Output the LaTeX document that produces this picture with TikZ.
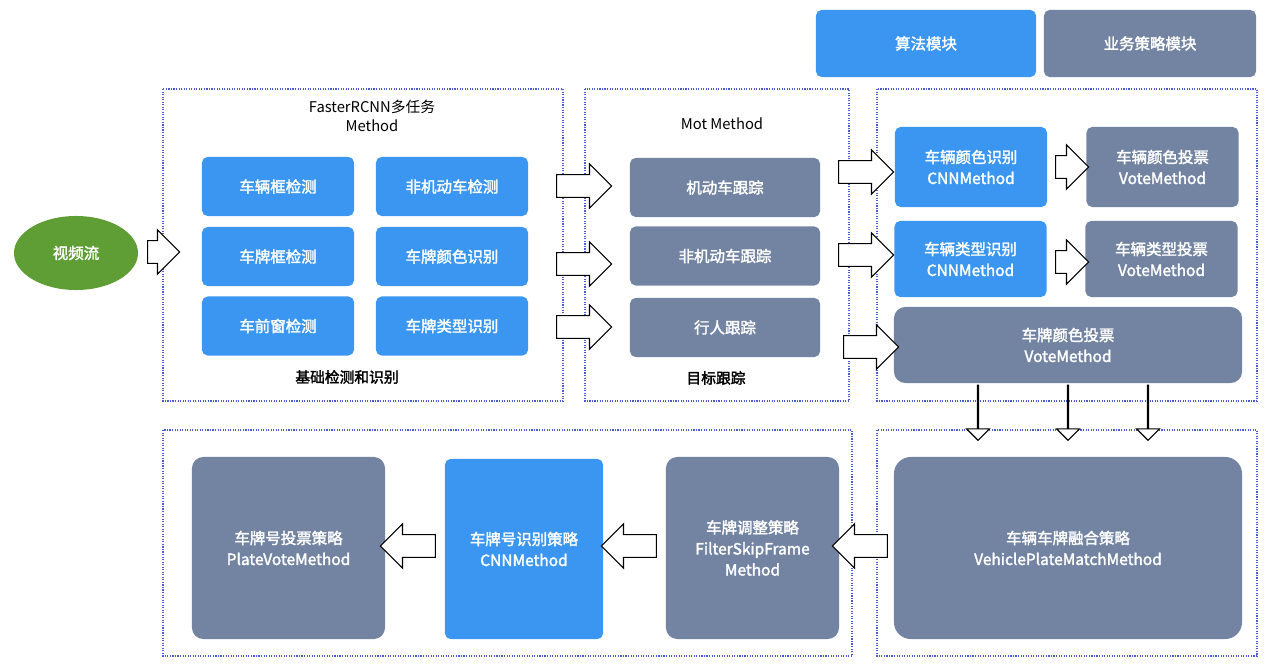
\documentclass[tikz,border=0pt]{standalone}
\usepackage{fontspec}
\setmainfont{Noto Sans CJK SC}[AutoFakeBold=2]
\usetikzlibrary{shapes.geometric,shapes.arrows}
\definecolor{algoblue}{HTML}{3A96F0}
\definecolor{rulegray}{HTML}{7384A3}
\definecolor{streamgreen}{HTML}{5E9E34}
\definecolor{framecol}{HTML}{4A5BD0}
\tikzset{
  algo/.style={fill=algoblue,rounded corners=4pt,text=white,align=center,font=\bfseries\fontsize{11}{15}\selectfont},
  rule/.style={fill=rulegray,rounded corners=4pt,text=white,align=center,font=\bfseries\fontsize{11}{15}\selectfont},
  frame/.style={draw=framecol,densely dotted,thick},
  hollow/.style={single arrow,draw=black,fill=white,thick,inner sep=0pt,inner ysep=0.27cm,
    single arrow head extend=0.27cm,single arrow head indent=0pt,minimum height=1.375cm},
  caption/.style={font=\fontsize{10.5}{14}\selectfont,align=center}
}
\begin{document}
\begin{tikzpicture}[x=0.025cm,y=-0.025cm]
\useasboundingbox (0,0) rectangle (1272,670);

% legend
\node[algo,minimum width=5.5cm,minimum height=1.675cm] (leg1) at (926,43.5) {算法模块};
\node[rule,minimum width=5.3cm,minimum height=1.675cm] (leg2) at (1150,43.5) {业务策略模块};

% frames
\draw[frame] (163,89) rectangle (563,401);
\draw[frame] (585,89) rectangle (849,401);
\draw[frame] (877,89) rectangle (1257,401);
\draw[frame] (163,430) rectangle (852,656);
\draw[frame] (877,430) rectangle (1257,656);

% input
\node[ellipse,fill=streamgreen,text=white,minimum width=3.1cm,minimum height=1.85cm,font=\bfseries\fontsize{11}{15}\selectfont] (stream) at (76,253) {视频流};

% detection
\node[caption] (det) at (372,116) {FasterRCNN多任务\\Method};
\node[algo,minimum width=3.8cm,minimum height=1.475cm] (car) at (278,186.5) {车辆框检测};
\node[algo,minimum width=3.8cm,minimum height=1.475cm] (nonmotor) at (452,186.5) {非机动车检测};
\node[algo,minimum width=3.8cm,minimum height=1.475cm] (plate) at (278,256.5) {车牌框检测};
\node[algo,minimum width=3.8cm,minimum height=1.475cm] (platecolor) at (452,256.5) {车牌颜色识别};
\node[algo,minimum width=3.8cm,minimum height=1.475cm] (window) at (278,326) {车前窗检测};
\node[algo,minimum width=3.8cm,minimum height=1.475cm] (platetype) at (452,326) {车牌类型识别};
\node[caption,font=\bfseries\fontsize{10.5}{14}\selectfont] (detlabel) at (347,377) {基础检测和识别};

% tracking
\node[caption] (mot) at (722,124) {Mot Method};
\node[rule,minimum width=4.75cm,minimum height=1.475cm] (trackcar) at (725,187.5) {机动车跟踪};
\node[rule,minimum width=4.75cm,minimum height=1.475cm] (tracknon) at (725,256) {非机动车跟踪};
\node[rule,minimum width=4.75cm,minimum height=1.475cm] (trackped) at (725,327.5) {行人跟踪};
\node[caption,font=\bfseries\fontsize{10.5}{14}\selectfont] (motlabel) at (716,378) {目标跟踪};

% attributes
\node[algo,minimum width=3.8cm,minimum height=2cm] (colorcnn) at (971,167) {车辆颜色识别\\CNNMethod};
\node[rule,minimum width=3.8cm,minimum height=2cm] (colorvote) at (1162.5,167) {车辆颜色投票\\VoteMethod};
\node[algo,minimum width=3.8cm,minimum height=1.9cm] (typecnn) at (970.5,259) {车辆类型识别\\CNNMethod};
\node[rule,minimum width=3.8cm,minimum height=1.9cm] (typevote) at (1161.5,259) {车辆类型投票\\VoteMethod};
\node[rule,minimum width=8.7cm,minimum height=1.9cm,rounded corners=8pt] (platevote) at (1068,345) {车牌颜色投票\\VoteMethod};

% strategies
\node[rule,minimum width=8.7cm,minimum height=4.55cm,rounded corners=12pt] (match) at (1068,548) {车辆车牌融合策略\\VehiclePlateMatchMethod};
\node[rule,minimum width=4.325cm,minimum height=4.55cm,rounded corners=8pt] (filter) at (752.5,548) {车牌调整策略\\FilterSkipFrame\\Method};
\node[algo,minimum width=3.95cm,minimum height=4.5cm] (platecnn) at (524,549) {车牌号识别策略\\CNNMethod};
\node[rule,minimum width=4.825cm,minimum height=4.55cm,rounded corners=8pt] (platefinal) at (288.5,548) {车牌号投票策略\\PlateVoteMethod};

% hollow arrows
\node[hollow,minimum height=0.8cm] (a0) at (158,252) {};
\node[hollow] (a1) at (578.5,186) {};
\node[hollow] (a2) at (578.5,264) {};
\node[hollow] (a3) at (578.5,327) {};
\node[hollow] (a4) at (860.5,172) {};
\node[hollow] (a5) at (860.5,255) {};
\node[hollow] (a6) at (865.5,347) {};
\node[hollow,minimum height=0.825cm] (a7) at (1066.5,167) {};
\node[hollow,minimum height=0.825cm] (a8) at (1066.5,262) {};
\node[hollow,shape border rotate=270] (d1) at (978,412.5) {};
\node[hollow,shape border rotate=270] (d2) at (1068,412.5) {};
\node[hollow,shape border rotate=270] (d3) at (1148,412.5) {};
\node[hollow,shape border rotate=180] (l1) at (865.5,546) {};
\node[hollow,shape border rotate=180] (l2) at (634.5,546) {};
\node[hollow,shape border rotate=180] (l3) at (413.5,546) {};
\end{tikzpicture}
\end{document}
